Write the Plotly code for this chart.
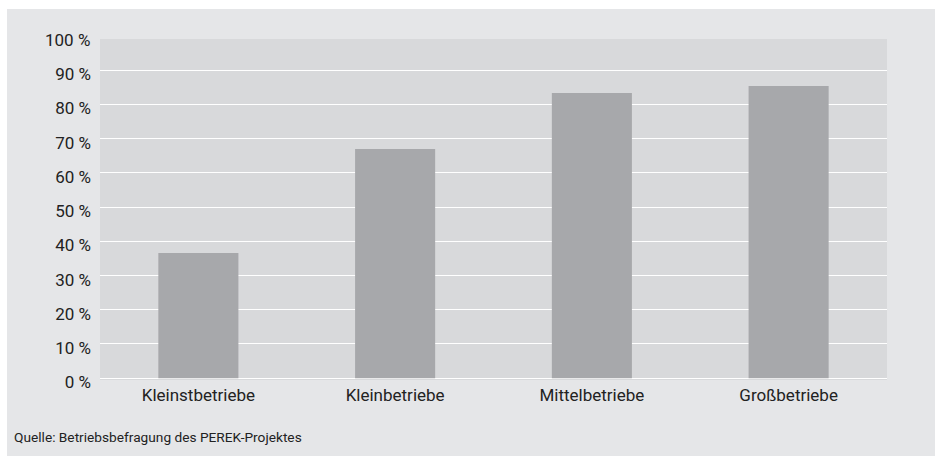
import plotly.graph_objects as go

categories = ["Kleinstbetriebe", "Kleinbetriebe", "Mittelbetriebe", "Großbetriebe"]
values = [36.6, 67.0, 83.4, 85.4]
tick_vals = [0, 10, 20, 30, 40, 50, 60, 70, 80, 90]
tick_text = [f"{v} %" for v in tick_vals]
top_label = "100 %"
source_text = "Quelle: Betriebsbefragung des PEREK-Projektes"

W, H = 935, 456
ML, MR, MT, MB = 100, 48, 39, 76
PW = W - ML - MR
PH = H - MT - MB

PAPER = "#e5e6e8"
PLOT = "#d8d9db"
BAR = "#a7a8ab"
TXT = "#222222"
FONT = "Roboto"
FS = 17

fig = go.Figure()
fig.add_trace(go.Bar(
    x=categories, y=values, marker=dict(color=BAR, line=dict(width=0)),
    width=0.407, hoverinfo="skip", showlegend=False,
))

def px_x(p):
    return (p - ML) / PW

def px_y(p):
    return 1 - (p - MT) / PH

shapes = [
    dict(type="rect", xref="paper", yref="paper", x0=px_x(0), x1=px_x(W), y0=px_y(9), y1=px_y(0),
         fillcolor="white", line=dict(width=0), layer="above"),
    dict(type="rect", xref="paper", yref="paper", x0=px_x(0), x1=px_x(7), y0=px_y(H), y1=px_y(0),
         fillcolor="white", line=dict(width=0), layer="above"),
]

fig.update_layout(
    width=W, height=H,
    margin=dict(l=ML, r=MR, t=MT, b=MB, pad=0),
    paper_bgcolor=PAPER, plot_bgcolor=PLOT,
    font=dict(family=FONT, color=TXT, size=FS),
    bargap=0.593,
    shapes=shapes,
    xaxis=dict(showgrid=False, zeroline=False, showline=False, ticks="",
               ticklabelstandoff=3,
               tickfont=dict(size=FS, color=TXT), fixedrange=True),
    yaxis=dict(range=[-0.53, 99.15], tickvals=tick_vals, ticktext=tick_text,
               showgrid=True, gridcolor="white", gridwidth=1.3, zeroline=False,
               showline=False, ticks="", ticklabelstandoff=8, ticklabelshift=4,
               tickfont=dict(size=FS, color=TXT), fixedrange=True),
    annotations=[
        dict(text=top_label, x=0, xref="paper", y=px_y(40), yref="paper", xanchor="right",
             yanchor="middle", xshift=-8, showarrow=False,
             font=dict(size=FS, color=TXT, family=FONT)),
        dict(text=source_text, x=px_x(12), xref="paper", y=px_y(437), yref="paper",
             xanchor="left", yanchor="middle", showarrow=False,
             font=dict(size=13.7, color=TXT, family=FONT)),
    ],
)

fig.write_html("out.html")
